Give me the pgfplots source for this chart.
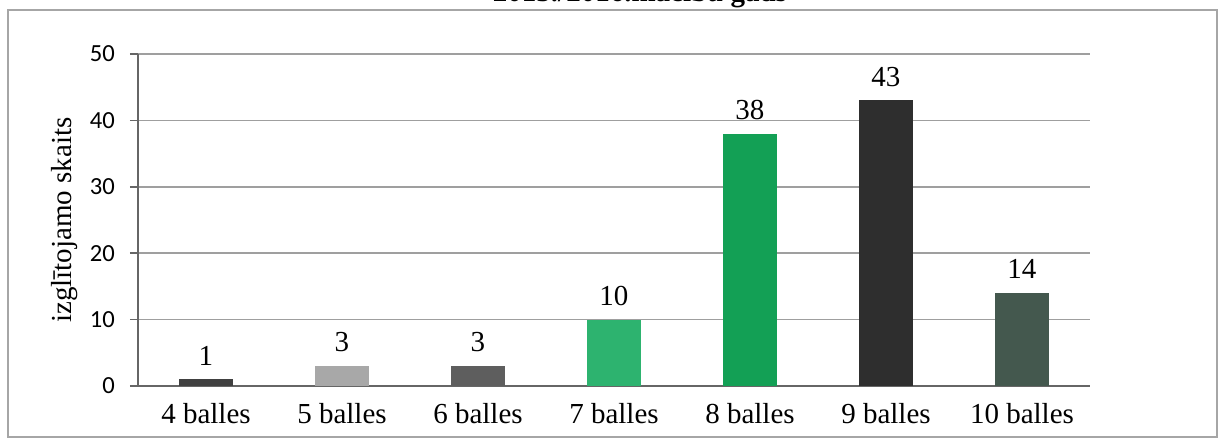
\documentclass[border=0pt]{standalone}
\usepackage{fontspec}
\setmainfont{Liberation Serif}
\newfontfamily\calib{Carlito}
\usepackage{pgfplots}
\pgfplotsset{compat=1.18}

\definecolor{c4}{HTML}{404040}
\definecolor{c5}{HTML}{A8A8A8}
\definecolor{c6}{HTML}{5E5E5E}
\definecolor{c7}{HTML}{2DB36F}
\definecolor{c8}{HTML}{13A055}
\definecolor{c9}{HTML}{2E2E2E}
\definecolor{c10}{HTML}{44584E}

\begin{document}
\begin{tikzpicture}
    \clip (-69pt,-26pt) rectangle (542.5pt,193pt);
    % frame round the chart
    \draw[gray!70, line width=0.6pt] (-65pt,-25.5pt) rectangle (539.5pt,188pt);
    % title, cut off at the top as in the scan
    \node[anchor=base, font=\bfseries\fontsize{14.5}{16}\selectfont] at (251pt,192pt) {2015./2016.mācību gads};
    \begin{axis}[
        at={(0,0)}, anchor=south west,
        scale only axis,
        width=476pt,
        height=166pt,
        ybar,
        xmin=-0.5, xmax=6.5,
        ymin=0, ymax=50,
        xtick={0,1,2,3,4,5,6},
        xticklabels={4 balles,5 balles,6 balles,7 balles,8 balles,9 balles,10 balles},
        ytick={0,10,20,30,40,50},
        axis x line*=bottom,
        axis y line*=left,
        axis line style={-, draw=gray!80!black, line width=0.8pt},
        ymajorgrids,
        grid style={gray!75, line width=0.7pt},
        x tick style={draw=none},
        y tick style={draw=gray!80!black, line width=0.7pt},
        tick align=outside,
        major tick length=4pt,
        ylabel={izglītojamo skaits},
        ylabel style={at={(axis description cs:0,0.5)}, anchor=center, yshift=36.5pt,
            font=\fontsize{14.5}{16}\selectfont},
        xticklabel style={font=\fontsize{14.5}{16}\selectfont, yshift=-1pt},
        yticklabel style={font=\calib\fontsize{12.3}{14}\selectfont, xshift=-4pt},
        /pgf/number format/assume math mode=true,
        every axis plot/.append style={bar shift=0pt, bar width=27pt, draw=none},
        nodes near coords,
        nodes near coords style={font=\fontsize{14.5}{16}\selectfont, text=black, yshift=3.5pt},
    ]
    \addplot[fill=c4]  coordinates {(0,1)};
    \addplot[fill=c5]  coordinates {(1,3)};
    \addplot[fill=c6]  coordinates {(2,3)};
    \addplot[fill=c7]  coordinates {(3,10)};
    \addplot[fill=c8]  coordinates {(4,38)};
    \addplot[fill=c9]  coordinates {(5,43)};
    \addplot[fill=c10] coordinates {(6,14)};
    \end{axis}
\end{tikzpicture}
\end{document}
